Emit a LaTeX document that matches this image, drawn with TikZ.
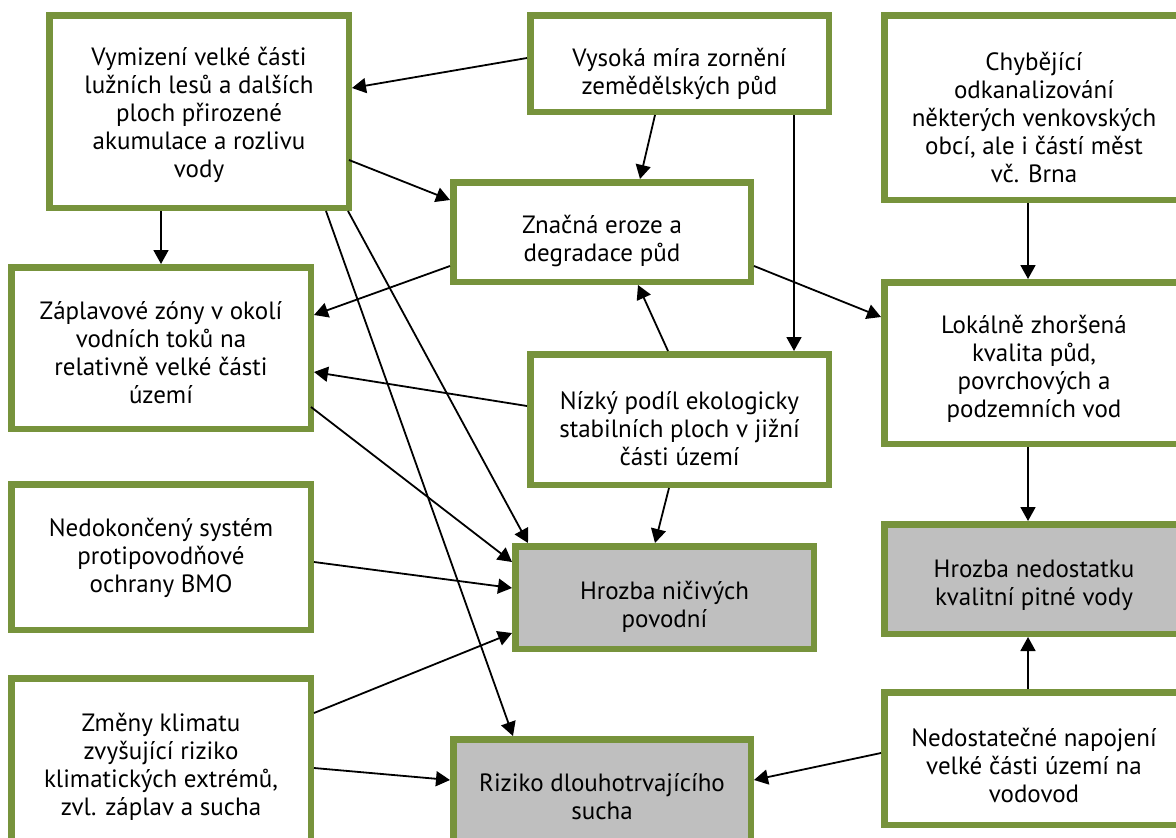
\documentclass[tikz,border=0pt]{standalone}
\usepackage{fontspec}
\setmainfont{PT Sans}
\usetikzlibrary{arrows.meta,calc}
\definecolor{boxgreen}{HTML}{77933C}
\definecolor{boxgray}{HTML}{BFBFBF}
\begin{document}
\begin{tikzpicture}[x=1pt,y=-1pt,
  box/.style={draw=boxgreen,line width=6.5pt,fill=white,inner sep=0pt},
  goal/.style={box,fill=boxgray},
  txt/.style={align=center,inner sep=0pt,font=\fontsize{25}{28}\selectfont,text=black},
  arr/.style={line width=1.8pt,-{Triangle[length=14pt,width=15pt]}}]
\useasboundingbox (0,0) rectangle (1176,838);
\fill[white] (0,0) rectangle (1176,838);
\node[box,minimum width=299.5pt,minimum height=192.5pt,
  label={[txt,yshift=-3pt]center:{Vymizení velké části\\lužních lesů a dalších\\ploch přirozené\\akumulace a rozlivu\\vody}}] (vym) at (199,111.5) {};
\node[box,minimum width=298.5pt,minimum height=96.5pt,
  label={[txt,yshift=-10pt]center:{Vysoká míra zornění\\zemědělských půd}}] (vys) at (679.5,63.5) {};
\node[box,minimum width=299.5pt,minimum height=184.5pt,
  label={[txt,yshift=-10pt]center:{Chybějící\\odkanalizování\\některých venkovských\\obcí, ale i částí měst\\vč. Brna}}] (chy) at (1034,107.5) {};
\node[box,minimum width=297.5pt,minimum height=99.5pt,
  label={[txt,yshift=-9pt]center:{Značná eroze a\\degradace půd}}] (zna) at (602,232) {};
\node[box,minimum width=299.5pt,minimum height=161.5pt,
  label={[txt,yshift=-5pt]center:{Záplavové zóny v okolí\\vodních toků na\\relativně velké části\\území}}] (zap) at (161,348) {};
\node[box,minimum width=298.5pt,minimum height=130.5pt,
  label={[txt,yshift=-9pt]center:{Nízký podíl ekologicky\\stabilních ploch v jižní\\části území}}] (niz) at (679.5,419.5) {};
\node[box,minimum width=299.5pt,minimum height=161.5pt,
  label={[txt,yshift=-6pt]center:{Lokálně zhoršená\\kvalita půd,\\povrchových a\\podzemních vod}}] (lok) at (1034,363) {};
\node[box,minimum width=299.5pt,minimum height=145.5pt,
  label={[txt,yshift=-1pt]center:{Nedokončený systém\\protipovodňové\\ochrany BMO}}] (ned) at (161,557) {};
\node[goal,minimum width=298.5pt,minimum height=102.5pt,
  label={[txt,yshift=-9pt]center:{Hrozba ničivých\\povodní}}] (hni) at (664.5,597.5) {};
\node[goal,minimum width=299.5pt,minimum height=109.5pt,
  label={[txt,yshift=-6pt]center:{Hrozba nedostatku\\kvalitní pitné vody}}] (hpv) at (1034,579) {};
\node[box,minimum width=299.5pt,minimum height=173.5pt,
  label={[txt,yshift=-2pt]center:{Změny klimatu\\zvyšující riziko\\klimatických extrémů,\\zvl. záplav a sucha}}] (zme) at (161,765) {};
\node[goal,minimum width=297.5pt,minimum height=111.5pt,
  label={[txt,yshift=-2pt]center:{Riziko dlouhotrvajícího\\sucha}}] (riz) at (602,795) {};
\node[box,minimum width=299.5pt,minimum height=132.5pt,
  label={[txt,yshift=-7pt]center:{Nedostatečné napojení\\velké části území na\\vodovod}}] (nap) at (1034,758.5) {};
% connectors
\draw[arr] ($(vys.west)+(0,-5.5)$) -- ($(vym.east)+(0,-23.5)$);
\draw[arr] ($(vym.east)+(-3,48.5)$) -- ($(zna.west)+(0,-32)$);
\draw[arr] ($(vys.south)+(-24.5,0)$) -- ($(zna.north)+(38,0)$);
\draw[arr] ($(vys.south)+(114.5,0)$) -- ($(niz.north)+(114.5,0)$);
\draw[arr] ($(vym.south)+(-38,0)$) -- (zap.north);
\draw[arr] ($(vym.south east)+(-4,0)$) -- ($(hni.north west)+(16,0)$);
\draw[arr] ($(vym.south east)+(-26,0)$) -- ($(riz.north)+(-89,0)$);
\draw[arr] ($(zna.west)+(0,34)$) -- ($(zap.east)+(0,-33)$);
\draw[arr] ($(niz.west)+(0,-13.5)$) -- ($(zap.east)+(0,24)$);
\draw[arr] ($(zap.east)+(-3,59)$) -- ($(hni.west)+(0,-35.5)$);
\draw[arr] ($(niz.north)+(-11.5,0)$) -- ($(zna.south)+(36,0)$);
\draw[arr] ($(niz.south)+(-10.5,0)$) -- ($(hni.north)+(-9.5,0)$);
\draw[arr] ($(zna.east)+(0,34)$) -- ($(lok.west)+(0,-46)$);
\draw[arr] ($(chy.south)+(-6,0)$) -- ($(lok.north)+(-6,0)$);
\draw[arr] ($(lok.south)+(-6,0)$) -- ($(hpv.north)+(-6,0)$);
\draw[arr] ($(nap.north)+(-6,0)$) -- ($(hpv.south)+(-6,0)$);
\draw[arr] ($(ned.east)+(0,5)$) -- ($(hni.west)+(0,-9.5)$);
\draw[arr] ($(zme.east)+(0,-52)$) -- ($(hni.west)+(0,35.5)$);
\draw[arr] ($(zme.east)+(0,3)$) -- ($(riz.west)+(0,-15)$);
\draw[arr] ($(nap.west)+(0,-5.5)$) -- ($(riz.east)+(0,-15)$);
\end{tikzpicture}
\end{document}
